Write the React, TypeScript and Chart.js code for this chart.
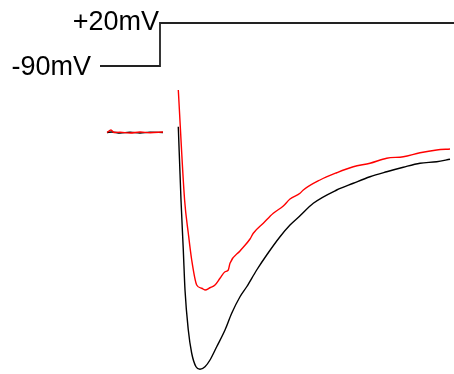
import React, { useEffect, useRef } from "react";
import { Chart, registerables } from "chart.js";

Chart.register(...registerables);

// Voltage protocol (time in ms, voltage in mV)
const protocolTime = [-6, 0, 0, 29.4];
const protocolVoltage = [-90, -90, 20, 20];
const protocolLabels = ["-90mV", "+20mV"];

// Holding baseline before the step (time ms, current nA)
const baseTimeBlack = [-5.3, -4.8, -4, -3, -2, -1, 0.3];
const baseBlack = [0, 0.02, -0.02, 0.01, -0.02, 0.01, 0];
const baseTimeRed = [-5.3, -4.9, -4.6, -4, -3, -2, -1, 0.3];
const baseRed = [0, 0.1, 0, 0.01, -0.02, 0.02, -0.01, 0.02];

// Current during the step
const timeBlack = [1.83, 2.1, 2.33, 2.5, 2.83, 3.17, 3.6, 4.0, 4.5, 5.0, 5.67, 6.5, 7.17, 8.0, 8.67, 9.67, 10.67, 12.0, 13.0, 13.9, 15.33, 17.67, 19.33, 21.0, 22.67, 24.33, 26.0, 27.67, 29.0];
const currentBlack = [0.23, -2.7, -4.7, -6.3, -7.9, -8.83, -9.37, -9.47, -9.37, -9.1, -8.57, -7.9, -7.23, -6.57, -6.17, -5.5, -4.9, -4.17, -3.7, -3.37, -2.83, -2.3, -2.03, -1.77, -1.57, -1.39, -1.23, -1.17, -1.07];

const timeRed = [1.83, 2.46, 2.83, 3.17, 3.67, 4.17, 4.5, 5.0, 5.5, 6.0, 6.5, 6.83, 7.0, 8.0, 9.0, 9.33, 10.33, 11.33, 12.33, 13.0, 14.0, 14.33, 16.0, 17.67, 19.33, 21.0, 22.67, 24.33, 26.0, 27.67, 29.0];
const currentRed = [1.7, -2.7, -4.03, -5.1, -6.1, -6.23, -6.3, -6.21, -6.1, -5.83, -5.57, -5.5, -5.23, -4.74, -4.26, -4.03, -3.63, -3.23, -2.94, -2.66, -2.43, -2.3, -1.9, -1.61, -1.37, -1.23, -1.03, -0.97, -0.81, -0.7, -0.66];

function pts(t: number[], v: number[]) {
  return t.map((x, i) => ({ x, y: v[i] }));
}

function joinWithGap(a: { x: number; y: number }[], b: { x: number; y: number }[]) {
  return [...a, { x: 1, y: null as any }, ...b];
}

const labelPlugin = {
  id: "protocolLabels",
  afterDatasetsDraw(chart: any) {
    const ctx = chart.ctx;
    const xs = chart.scales.x;
    const yv = chart.scales.yv;
    ctx.save();
    ctx.fillStyle = "#000";
    ctx.font = "27px 'Liberation Sans', Arial, sans-serif";
    ctx.textAlign = "right";
    ctx.textBaseline = "alphabetic";
    ctx.fillText(protocolLabels[0], xs.getPixelForValue(protocolTime[0]) - 9, yv.getPixelForValue(protocolVoltage[0]) + 9);
    ctx.fillText(protocolLabels[1], xs.getPixelForValue(protocolTime[2]) - 1, yv.getPixelForValue(protocolVoltage[2]) + 7);
    ctx.restore();
  },
};

export default function App() {
  const ref = useRef<HTMLCanvasElement>(null);
  useEffect(() => {
    if (!ref.current) return;
    const chart = new Chart(ref.current, {
      type: "line",
      data: {
        datasets: [
          {
            data: joinWithGap(pts(baseTimeRed, baseRed), pts(timeRed, currentRed)),
            borderColor: "#ff0000",
            borderWidth: 1.4,
            pointRadius: 0,
            cubicInterpolationMode: "monotone",
            spanGaps: false,
            yAxisID: "y",
          },
          {
            data: joinWithGap(pts(baseTimeBlack, baseBlack), pts(timeBlack, currentBlack)),
            borderColor: "#000000",
            borderWidth: 1.4,
            pointRadius: 0,
            cubicInterpolationMode: "monotone",
            spanGaps: false,
            yAxisID: "y",
          },
          {
            data: pts(protocolTime, protocolVoltage),
            borderColor: "#222222",
            borderWidth: 1.8,
            pointRadius: 0,
            tension: 0,
            yAxisID: "yv",
          },
        ],
      },
      options: {
        responsive: false,
        animation: false,
        layout: { padding: 0 },
        plugins: { legend: { display: false }, tooltip: { enabled: false } },
        scales: {
          x: { type: "linear", min: -16, max: 29.4, display: false },
          y: { type: "linear", min: -9.66, max: 5.3, display: false },
          yv: { type: "linear", min: -877.9, max: 78.84, display: false },
        },
      },
      plugins: [labelPlugin],
    });
    return () => chart.destroy();
  }, []);
  return (
    <div style={{ position: "absolute", left: 0, top: 0, width: 454, height: 374, background: "#fff" }}>
      <canvas ref={ref} width={454} height={374} />
    </div>
  );
}
